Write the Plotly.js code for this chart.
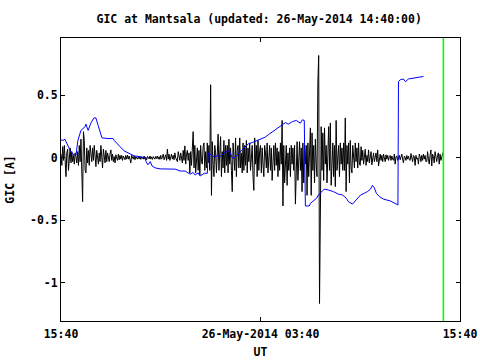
<!DOCTYPE html>
<html>
<head>
<meta charset="utf-8">
<script src="https://cdn.plot.ly/plotly-3.0.1.min.js"></script>
<style>html,body{margin:0;padding:0;background:#fff;}#chart{width:480px;height:360px;}</style>
</head>
<body>
<div id="chart"></div>
<script>
// ---- data ----
const startTime = '2014-05-25 15:40';
const endTime = '2014-05-26 15:40';
const updatedTime = '2014-05-26 14:40';
const xTickVals = ['2014-05-25 15:40', '2014-05-26 03:40', '2014-05-26 15:40'];
const xTickText = ['15:40', '26-May-2014 03:40', '15:40'];
const yTickVals = [-1, -0.5, 0, 0.5];
const yTickText = ['-1', '-0.5', '0', '0.5'];

// black GIC trace: one value every 3 minutes from 15:40 (one row per hour)
const blackStepMinutes = 3;
const blackValues = [
  0.03,-0.06,0.09,-0.02,0.1,-0.08,-0.15,0.04,0.07,-0.1,0.02,0.08,-0.04,0.05,-0.03,0.02,-0.05,0.04,0.01,-0.04,
  0.05,-0.06,0.1,-0.03,0.15,-0.08,-0.35,0.21,0.14,-0.1,-0.12,0.08,-0.04,0.06,-0.06,0.1,0.02,-0.03,0.08,-0.02,
  0.1,-0.05,-0.07,0.06,0.02,-0.05,0.04,-0.03,0.1,-0.06,-0.08,0.07,0.03,-0.04,0.06,-0.03,0.04,0.01,-0.03,0.03,
  0.064,-0.02,0.03,-0.03,0.01,-0.04,0.025,0.0,-0.02,0.03,-0.015,0.02,-0.01,0.02,-0.02,0.015,0.0,-0.015,0.02,-0.01,
  0.02,-0.01,0.015,-0.005,-0.04,0.02,0.005,-0.01,0.015,-0.015,0.01,0.0,-0.01,0.012,-0.008,0.01,-0.012,0.008,0.0,-0.01,
  0.015,-0.01,0.005,-0.015,0.012,0.0,-0.008,0.015,-0.01,0.008,-0.012,0.01,0.0,-0.01,0.012,-0.005,0.015,-0.01,0.01,-0.012,
  0.02,-0.01,0.005,0.03,-0.015,0.01,0.025,-0.02,0.07,-0.01,0.03,-0.02,0.01,0.03,-0.01,0.02,-0.015,0.04,0.0,-0.02,
  -0.03,0.05,-0.01,-0.02,0.04,0.01,-0.04,0.06,-0.02,0.096,-0.05,0.03,0.06,-0.02,0.04,-0.12,0.05,-0.06,0.08,0.21,
  -0.08,0.1,-0.12,0.04,0.08,-0.1,0.06,-0.137,0.1,-0.03,-0.05,0.09,0.12,-0.1,0.05,-0.08,0.12,-0.04,0.1,-0.1,
  0.586,-0.3,0.13,-0.05,-0.15,0.1,0.04,-0.12,0.08,0.19,-0.1,0.12,0.17,-0.15,0.05,-0.08,0.14,-0.12,0.1,-0.06,
  0.1,-0.12,0.15,-0.05,0.08,-0.1,-0.27,0.12,0.02,-0.1,0.16,-0.15,0.06,0.1,-0.08,0.16,-0.08,0.04,-0.12,0.12,
  -0.1,0.1,-0.06,0.14,-0.12,0.08,-0.03,0.12,-0.1,0.05,0.1,-0.15,-0.26,0.16,-0.05,0.1,-0.15,0.14,-0.1,0.06,
  0.1,-0.12,0.08,-0.05,-0.15,0.1,0.04,-0.08,0.12,-0.12,0.02,0.1,-0.1,0.08,-0.18,0.05,0.1,-0.1,0.12,-0.06,
  0.08,-0.15,0.05,-0.1,0.12,-0.05,0.3,-0.385,0.1,-0.2,0.06,0.1,-0.22,0.04,-0.1,0.08,-0.15,0.1,-0.05,0.08,
  -0.1,0.1,-0.37,0.05,0.13,-0.18,0.02,0.13,-0.1,0.08,-0.27,0.12,-0.2,0.1,-0.05,0.1,-0.3,0.12,-0.15,0.2,
  0.24,-0.3,0.2,-0.1,0.1,-0.2,0.15,-0.05,-0.15,0.6,0.82,-1.166,-0.52,0.25,-0.1,0.2,-0.18,0.24,-0.05,0.1,
  -0.2,0.1,0.25,-0.1,0.28,-0.22,0.05,0.12,-0.15,0.1,-0.23,0.3,-0.1,0.02,0.1,-0.15,0.12,-0.05,0.08,-0.1,
  0.12,-0.1,0.32,-0.27,0.1,-0.05,0.12,-0.2,0.14,-0.08,-0.12,0.1,0.02,-0.08,0.12,-0.03,0.08,-0.08,0.12,-0.05,
  -0.06,0.09,-0.02,0.06,-0.05,0.03,0.07,-0.06,0.02,-0.03,0.064,-0.04,0.01,0.05,-0.055,0.02,0.04,-0.03,0.01,0.04,
  -0.03,0.064,-0.065,0.01,0.03,-0.02,0.02,-0.03,0.03,0.0,-0.03,0.025,-0.01,0.02,-0.02,0.01,0.02,-0.02,0.015,-0.01,
  -0.02,0.03,-0.05,0.01,0.015,-0.02,0.0,0.02,-0.015,0.01,0.03,-0.01,-0.04,0.015,0.005,-0.02,0.02,-0.01,0.015,-0.015,
  -0.02,0.035,-0.01,-0.03,0.02,0.01,-0.06,0.02,-0.01,0.0,-0.05,0.03,0.01,-0.03,0.02,-0.02,0.03,-0.01,0.02,-0.03,
  -0.03,0.05,-0.01,-0.05,0.02,0.064,-0.065,0.03,0.01,-0.04,0.05,-0.02,-0.03,0.02,0.04,-0.05,0.03,-0.02,0.0,0.02,
  0.05
];

// blue trace: minutes after 15:40 and values
const blueMinutes = [
  0, 7, 14, 25, 33, 43, 54, 61, 72, 87, 90, 98, 108, 119, 126, 134, 141, 148, 170, 188,
  192, 202, 213, 228, 242, 264, 285, 304, 307, 314, 322, 329, 340, 358, 412, 430, 448, 455, 466, 477,
  484, 495, 502, 517, 528, 531, 542, 553, 564, 575, 589, 604, 611, 618, 625, 636, 647, 661, 676, 690,
  705, 719, 737, 748, 763, 781, 795, 810, 820, 835, 849, 857, 864, 871, 878, 882, 896, 900, 911, 922,
  929, 940, 950, 965, 983, 1001, 1016, 1030, 1037, 1052, 1066, 1081, 1095, 1106, 1117, 1124, 1131, 1138, 1149, 1164,
  1189, 1200, 1211, 1216, 1218, 1225, 1236, 1243, 1254, 1268, 1290, 1308
];
const blueValues = [
  0.144, 0.14, 0.15, 0.10, 0.06, 0.03, 0.02, 0.14, 0.22, 0.25, 0.27, 0.22, 0.28, 0.32, 0.32, 0.26, 0.21, 0.16, 0.155, 0.155,
  0.14, 0.12, 0.09, 0.056, 0.04, 0.016, 0.01, 0.0, -0.03, -0.055, -0.03, -0.065, -0.08, -0.088, -0.09, -0.105, -0.105, -0.117, -0.13, -0.117,
  -0.137, -0.12, -0.145, -0.123, -0.123, 0.04, 0.024, 0.008, 0.017, 0.01, 0.04, 0.056, 0.04, 0.0, 0.0, 0.024, 0.05, 0.078, 0.112, 0.123,
  0.136, 0.152, 0.166, 0.185, 0.21, 0.238, 0.265, 0.283, 0.27, 0.29, 0.30, 0.29, 0.278, 0.305, 0.30, -0.385, -0.385, -0.364, -0.345, -0.324,
  -0.297, -0.27, -0.25, -0.257, -0.27, -0.29, -0.297, -0.324, -0.35, -0.37, -0.337, -0.297, -0.283, -0.27, -0.25, -0.22, -0.24, -0.283, -0.31, -0.33,
  -0.345, -0.358, -0.372, -0.377, 0.612, 0.626, 0.632, 0.61, 0.632, 0.636, 0.642, 0.652
];

// ---- build ----
const t0 = new Date(startTime.replace(' ', 'T') + 'Z').getTime();
function minToStr(m) {
  const d = new Date(t0 + m * 60000);
  return d.toISOString().slice(0, 19).replace('T', ' ');
}
const blackX = blackValues.map((_, i) => minToStr(i * blackStepMinutes));
const blueX = blueMinutes.map(minToStr);

const font = {family: 'DejaVu Sans Mono, monospace', size: 11.5, color: '#000', weight: 'bold'};

const traces = [
  {x: blackX, y: blackValues, type: 'scatter', mode: 'lines', line: {color: '#000000', width: 1}, hoverinfo: 'skip'},
  {x: blueX, y: blueValues, type: 'scatter', mode: 'lines', line: {color: '#0000ff', width: 1}, hoverinfo: 'skip'},
  {x: [updatedTime, updatedTime], y: [-1.306, 0.96], type: 'scatter', mode: 'lines', line: {color: '#00ff00', width: 1.6}, hoverinfo: 'skip'}
];

const layout = {
  width: 480, height: 360,
  margin: {l: 61, r: 20, t: 38, b: 39, pad: 0},
  paper_bgcolor: '#fff', plot_bgcolor: '#fff',
  showlegend: false,
  font: font,
  title: {text: 'GIC at Mantsala (updated: 26-May-2014 14:40:00)', font: font,
          x: 0.54, xanchor: 'center', y: 1 - 19 / 360, yanchor: 'middle', xref: 'container', yref: 'container'},
  xaxis: {
    type: 'date', range: [startTime, endTime],
    tickmode: 'array', tickvals: xTickVals, ticktext: xTickText,
    ticks: 'inside', ticklen: 4, tickcolor: '#000', tickwidth: 1,
    showline: true, linecolor: '#000', linewidth: 1, mirror: 'ticks',
    showgrid: false, zeroline: false, tickfont: font, ticklabelstandoff: 2,
    title: {text: 'UT', font: font, standoff: 8}
  },
  yaxis: {
    range: [-1.306, 0.96],
    tickmode: 'array', tickvals: yTickVals, ticktext: yTickText,
    ticks: 'inside', ticklen: 4, tickcolor: '#000', tickwidth: 1,
    showline: true, linecolor: '#000', linewidth: 1, mirror: 'ticks',
    showgrid: false, zeroline: false, tickfont: font,
    title: {text: 'GIC [A]', font: font, standoff: 12}
  }
};

Plotly.newPlot('chart', traces, layout, {staticPlot: true, displayModeBar: false});
</script>
</body>
</html>
